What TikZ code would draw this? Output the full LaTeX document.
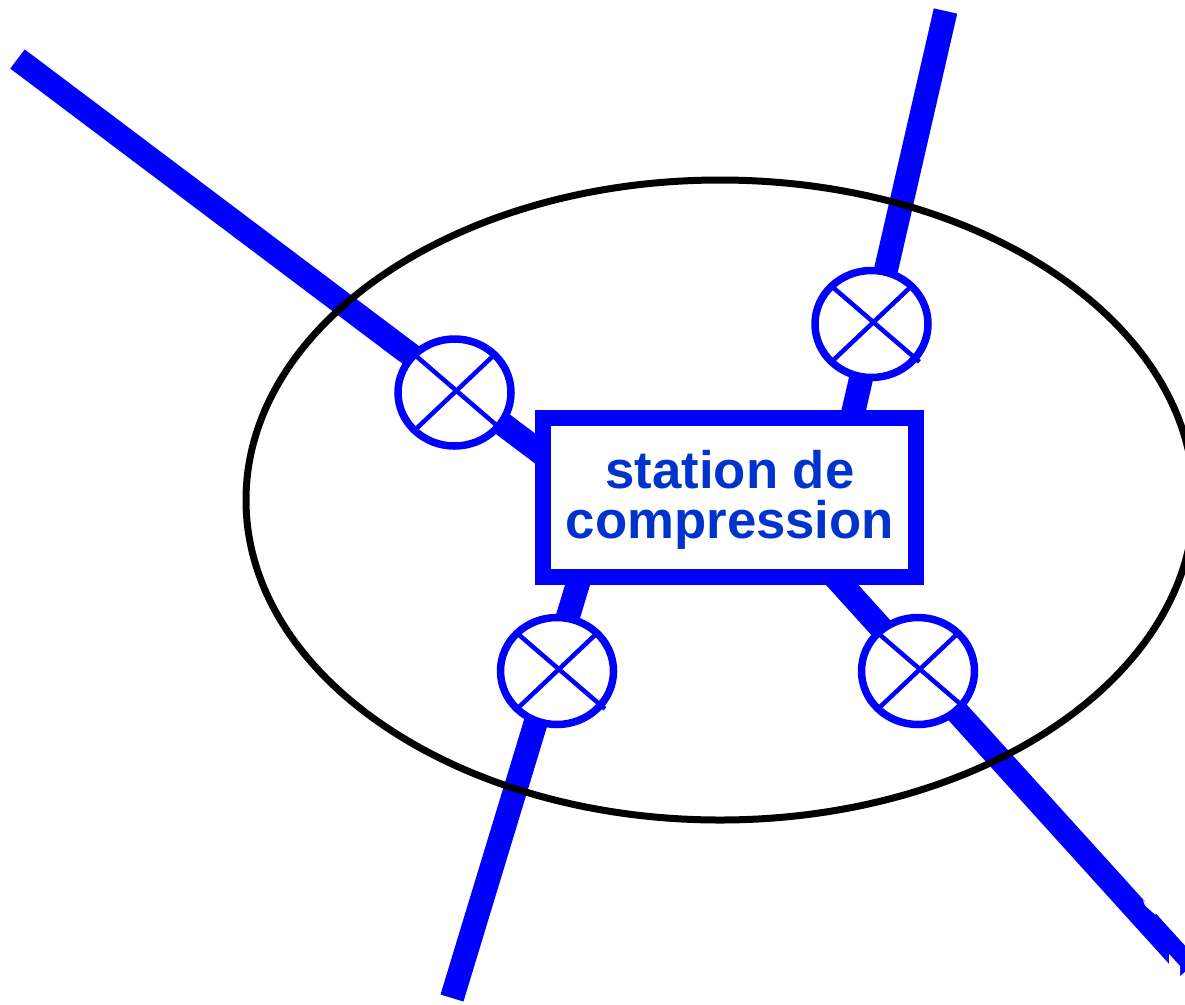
\documentclass[tikz,border=0pt]{standalone}
\usepackage{fontspec}
\setmainfont{Liberation Sans}
\usetikzlibrary{shapes.geometric,backgrounds,calc}
\definecolor{pipeblue}{HTML}{0000FF}
\definecolor{labelblue}{HTML}{0033CC}
\tikzset{
  pipe/.style={draw=pipeblue, line width=4.8mm},
  valve/.style={ellipse, draw=pipeblue, fill=white, line width=1.5mm, minimum width=2.26cm, minimum height=2.14cm, inner sep=0pt, outer sep=0pt},
  crossline/.style={draw=pipeblue, line width=0.9mm},
  stationbox/.style={rectangle, draw=pipeblue, fill=white, line width=3.2mm, minimum width=7.46cm, minimum height=3.18cm, outer sep=0pt},
  stationtext/.style={align=center, text=labelblue, font=\fontsize{30}{28.6}\selectfont\bfseries}
}
\begin{document}
\begin{tikzpicture}[x=0.2mm,y=-0.2mm]
\useasboundingbox (0,0) rectangle (1185,1004);
\node[stationbox] (station) at (729.5,497.5) {};
\node[stationtext] (stationlabel) at (730,499.5) {station de\\compression};
\node[valve] (valveA) at (454.5,392.5) {};
\node[valve] (valveB) at (871.5,324) {};
\node[valve] (valveC) at (557,671) {};
\node[valve] (valveD) at (918,671) {};
\coordinate (endA) at (17.5,59);
\coordinate (endB) at (945.5,11);
\coordinate (endC) at (452,998);
\coordinate (endD) at (1189,968);
\foreach \v in {valveA,valveB,valveC,valveD}
  {\draw[crossline] (\v.north west) -- ($(\v.south east)+(8,0)$);
   \draw[crossline] (\v.north east) -- (\v.south west);}
\begin{scope}[on background layer]
\draw[pipe] (endA) -- (station.167.7);
\draw[pipe] (endB) -- (station.33.6);
\draw[pipe] (endC) -- (station.208.4);
\draw[pipe] (endD) -- (station.323.3);
\fill[white] (1169,969) -- (1169,954) -- (1180,966) -- (1180,980) -- cycle;
\fill[white] (1143,900) -- (1145,905.5) -- (1155,914.5) -- (1158,913) -- cycle;
\draw[black, line width=1.4mm] (720,500) ellipse (474 and 320);
\end{scope}
\end{tikzpicture}
\end{document}
